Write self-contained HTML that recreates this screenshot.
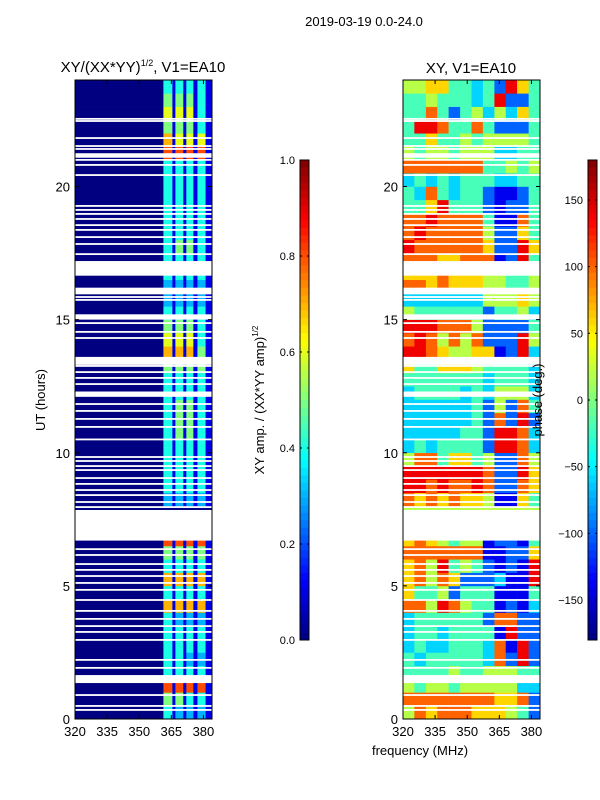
<!DOCTYPE html>
<html><head><meta charset="utf-8">
<style>
html,body{margin:0;padding:0;background:#fff;}
svg{display:block;font-family:"Liberation Sans","DejaVu Sans",sans-serif;}
</style></head>
<body>
<svg id="fig" width="600" height="800" viewBox="0 0 600 800" xmlns="http://www.w3.org/2000/svg">
  <text x="364" y="26" font-size="13" text-anchor="middle">2019-03-19 0.0-24.0</text>
  <text x="143" y="72" font-size="15" text-anchor="middle">XY/(XX*YY)<tspan font-size="9" dy="-6">1/2</tspan><tspan dy="6">, V1=EA10</tspan></text>
  <text x="471" y="73" font-size="15" text-anchor="middle">XY, V1=EA10</text>
  <text x="45" y="400" font-size="13" text-anchor="middle" transform="rotate(-90 45 400)">UT (hours)</text>
  <text x="420" y="755" font-size="13" text-anchor="middle">frequency (MHz)</text>
  <text x="264" y="400" font-size="13" text-anchor="middle" transform="rotate(-90 264 400)">XY amp. / (XX*YY amp)<tspan font-size="8" dy="-6">1/2</tspan></text>
  <g id="ampPanel"></g>
  <g id="phasePanel"></g>
  <g id="ampCbar"></g>
  <g id="phaseCbar"></g>
  <text x="542" y="400" font-size="13" text-anchor="middle" transform="rotate(-90 542 400)">phase (deg.)</text>
</svg>
<script>
// ---- data ----
const hourTicks = [0, 5, 10, 15, 20];
const freqTicks = [320, 335, 350, 365, 380];
const ampFreqEdges = [320, 361.3, 365.5, 366.9, 370.6, 372, 375.3, 377.2, 381, 384];
const phaseFreqEdges = [320, 325.3, 330.7, 336, 341.3, 346.7, 352, 357.3, 362.7, 368, 373.3, 378.7, 384];
const rowHours = 0.5;
// amplitude rows (bottom = 0h), digit d -> d/10
const ampRows = [
"041313131","051514141","081818181","041414141","041413131","041414141","041414141","041313131",
"071717171","041414141","071717171","041414141","051515151","081818181","000000000","000000000",
"031313131","041414141","041414141","041414141","041414141","041515141","041515141","041515141",
"041414141","041414141","051515151","071717151","061616141","051515141","041414141","031313131",
"031313131","041414141","041414141","041515141","041414141","041414141","041414141","041414141",
"041414141","041414141","081818181","071616161","051515141","061616141","051515141","041414141"];
// phase rows (bottom = 0h), digit d -> -180 + d*40 deg
const phaseRows = [
"576777666542","777777776672","545545555533","444454455544","434444437282","343344437182","344344441822","344444427722",
"775875441213","644524441114","675762223118","675845421218","777777711226","676545512214","555555555555","555555555555",
"767676651164","887877872276","888888872286","577466452275","343444428873","333334428873","333333427282","333333425274",
"344443435553","444444434443","644666544443","887655661283","787575722285","888777522224","544444424453","333333355565",
"776766655445","666766655445","777667771284","877777762286","787777752264","778777741174","446844421224","437434421124",
"343434443344","777777744545","545545553344","446445455554","488744742224","447424535364","445444348224","556644342864"];
// flagged (white) time ranges [start, end] in hours
const flagRanges = [[6.7,7.85],[16.65,17.2],[15.95,16.2],[15.0,15.2],[13.3,13.6],[12.1,12.3],[21.08,21.25],[1.35,1.65]];
const flagLines = [22.54,22.46,21.82,21.52,21.41,21.0,20.81,20.43,19.27,19.12,18.97,18.78,18.55,18.37,18.1,17.84,17.46,
15.85,15.74,14.87,14.54,14.31,13.26,13.03,12.81,12.58,11.83,11.57,11.27,10.97,10.5,9.84,9.69,9.5,9.35,9.05,8.83,8.6,8.41,
8.15,7.96,6.38,6.16,5.82,5.6,5.37,5.11,4.85,4.47,4.06,3.76,3.49,3.27,2.97,2.22,1.92,0.9,0.49,0.34];
const ampCbarTicks = [0.0, 0.2, 0.4, 0.6, 0.8, 1.0];
const phaseCbarTicks = [-150, -100, -50, 0, 50, 100, 150];

// ---- helpers ----
const NS = "http://www.w3.org/2000/svg";
function jet(v){
  v = Math.max(0, Math.min(1, v));
  const c = x => Math.round(255*Math.max(0, Math.min(1, x)));
  const r = 1.5 - Math.abs(4*v - 3), g = 1.5 - Math.abs(4*v - 2), b = 1.5 - Math.abs(4*v - 1);
  return `rgb(${c(r)},${c(g)},${c(b)})`;
}
function mk(tag, attrs, parent){
  const e = document.createElementNS(NS, tag);
  for (const k in attrs) e.setAttribute(k, attrs[k]);
  parent.appendChild(e); return e;
}
const Y0 = 719, Y1 = 80;
const yScale = h => Y0 - (h/24)*(Y0 - Y1);

function drawPanel(g, x0, x1, edges, rows, valFn, name){
  const xScale = f => x0 + (f - 320)/(384 - 320)*(x1 - x0);
  rows.forEach((row, i) => {
    const yt = yScale((i+1)*rowHours), yb = yScale(i*rowHours);
    for (let j = 0; j < row.length; j++){
      const xa = xScale(edges[j]), xb = xScale(edges[j+1]);
      const r = mk("rect", {x: xa, y: yt, width: xb - xa + 0.3, height: yb - yt + 0.3, fill: jet(valFn(+row[j]))}, g);
      
      
    }
  });
  flagRanges.forEach(fr => {
    const r = mk("rect", {x: x0, y: yScale(fr[1]), width: x1 - x0, height: yScale(fr[0]) - yScale(fr[1]), fill: "#fff"}, g);
    
    
  });
  flagLines.forEach(h => {
    const r = mk("rect", {x: x0, y: yScale(h) - 0.9, width: x1 - x0, height: 1.8, fill: "#fff"}, g);
    
    
  });
  const fr = mk("rect", {x: x0, y: Y1, width: x1 - x0, height: Y0 - Y1, fill: "none", stroke: "#000", "stroke-width": 1}, g);
  
  
  hourTicks.forEach(h => {
    const y = yScale(h);
    mk("line", {x1: x0, x2: x0 + 4, y1: y, y2: y, stroke: "#000"}, g);
    mk("line", {x1: x1, x2: x1 - 4, y1: y, y2: y, stroke: "#000"}, g);
    const t = mk("text", {x: x0 - 5, y: y + 5, "font-size": 13, "text-anchor": "end"}, g);
    t.textContent = h;
    
    
  });
  freqTicks.forEach(f => {
    const x = xScale(f);
    mk("line", {x1: x, x2: x, y1: Y0, y2: Y0 - 4, stroke: "#000"}, g);
    mk("line", {x1: x, x2: x, y1: Y1, y2: Y1 + 4, stroke: "#000"}, g);
    const t = mk("text", {x: x, y: Y0 + 17, "font-size": 13, "text-anchor": "middle"}, g);
    t.textContent = f;
    
    
  });
}
drawPanel(document.getElementById("ampPanel"), 75, 212, ampFreqEdges, ampRows, d => d/10, 'amp');
drawPanel(document.getElementById("phasePanel"), 403, 540, phaseFreqEdges, phaseRows, d => (d*40)/360, 'phase');

function drawCbar(g, x0, ticks, vmin, vmax, fmt){
  const w = 9, yt = 160, yb = 640, n = 64;
  for (let i = 0; i < n; i++){
    const y = yb - (i+1)*(yb - yt)/n;
    mk("rect", {x: x0, y: y, width: w, height: (yb - yt)/n + 0.4, fill: jet((i + 0.5)/n)}, g);
  }
  mk("rect", {x: x0, y: yt, width: w, height: yb - yt, fill: "none", stroke: "#000", "stroke-width": 1}, g);
  ticks.forEach(v => {
    const y = yb - (v - vmin)/(vmax - vmin)*(yb - yt);
    mk("line", {x1: x0, x2: x0 + 2, y1: y, y2: y, stroke: "#000"}, g);
    mk("line", {x1: x0 + w, x2: x0 + w - 2, y1: y, y2: y, stroke: "#000"}, g);
    const t = mk("text", {x: x0 - 5, y: y + 4, "font-size": 11, "text-anchor": "end"}, g);
    t.textContent = fmt(v);
    
    
  });
}
drawCbar(document.getElementById("ampCbar"), 300, ampCbarTicks, 0, 1, v => v.toFixed(1));
drawCbar(document.getElementById("phaseCbar"), 588, phaseCbarTicks, -180, 180, v => v < 0 ? "\u2212" + Math.abs(v) : String(v));
</script>
</body></html>
